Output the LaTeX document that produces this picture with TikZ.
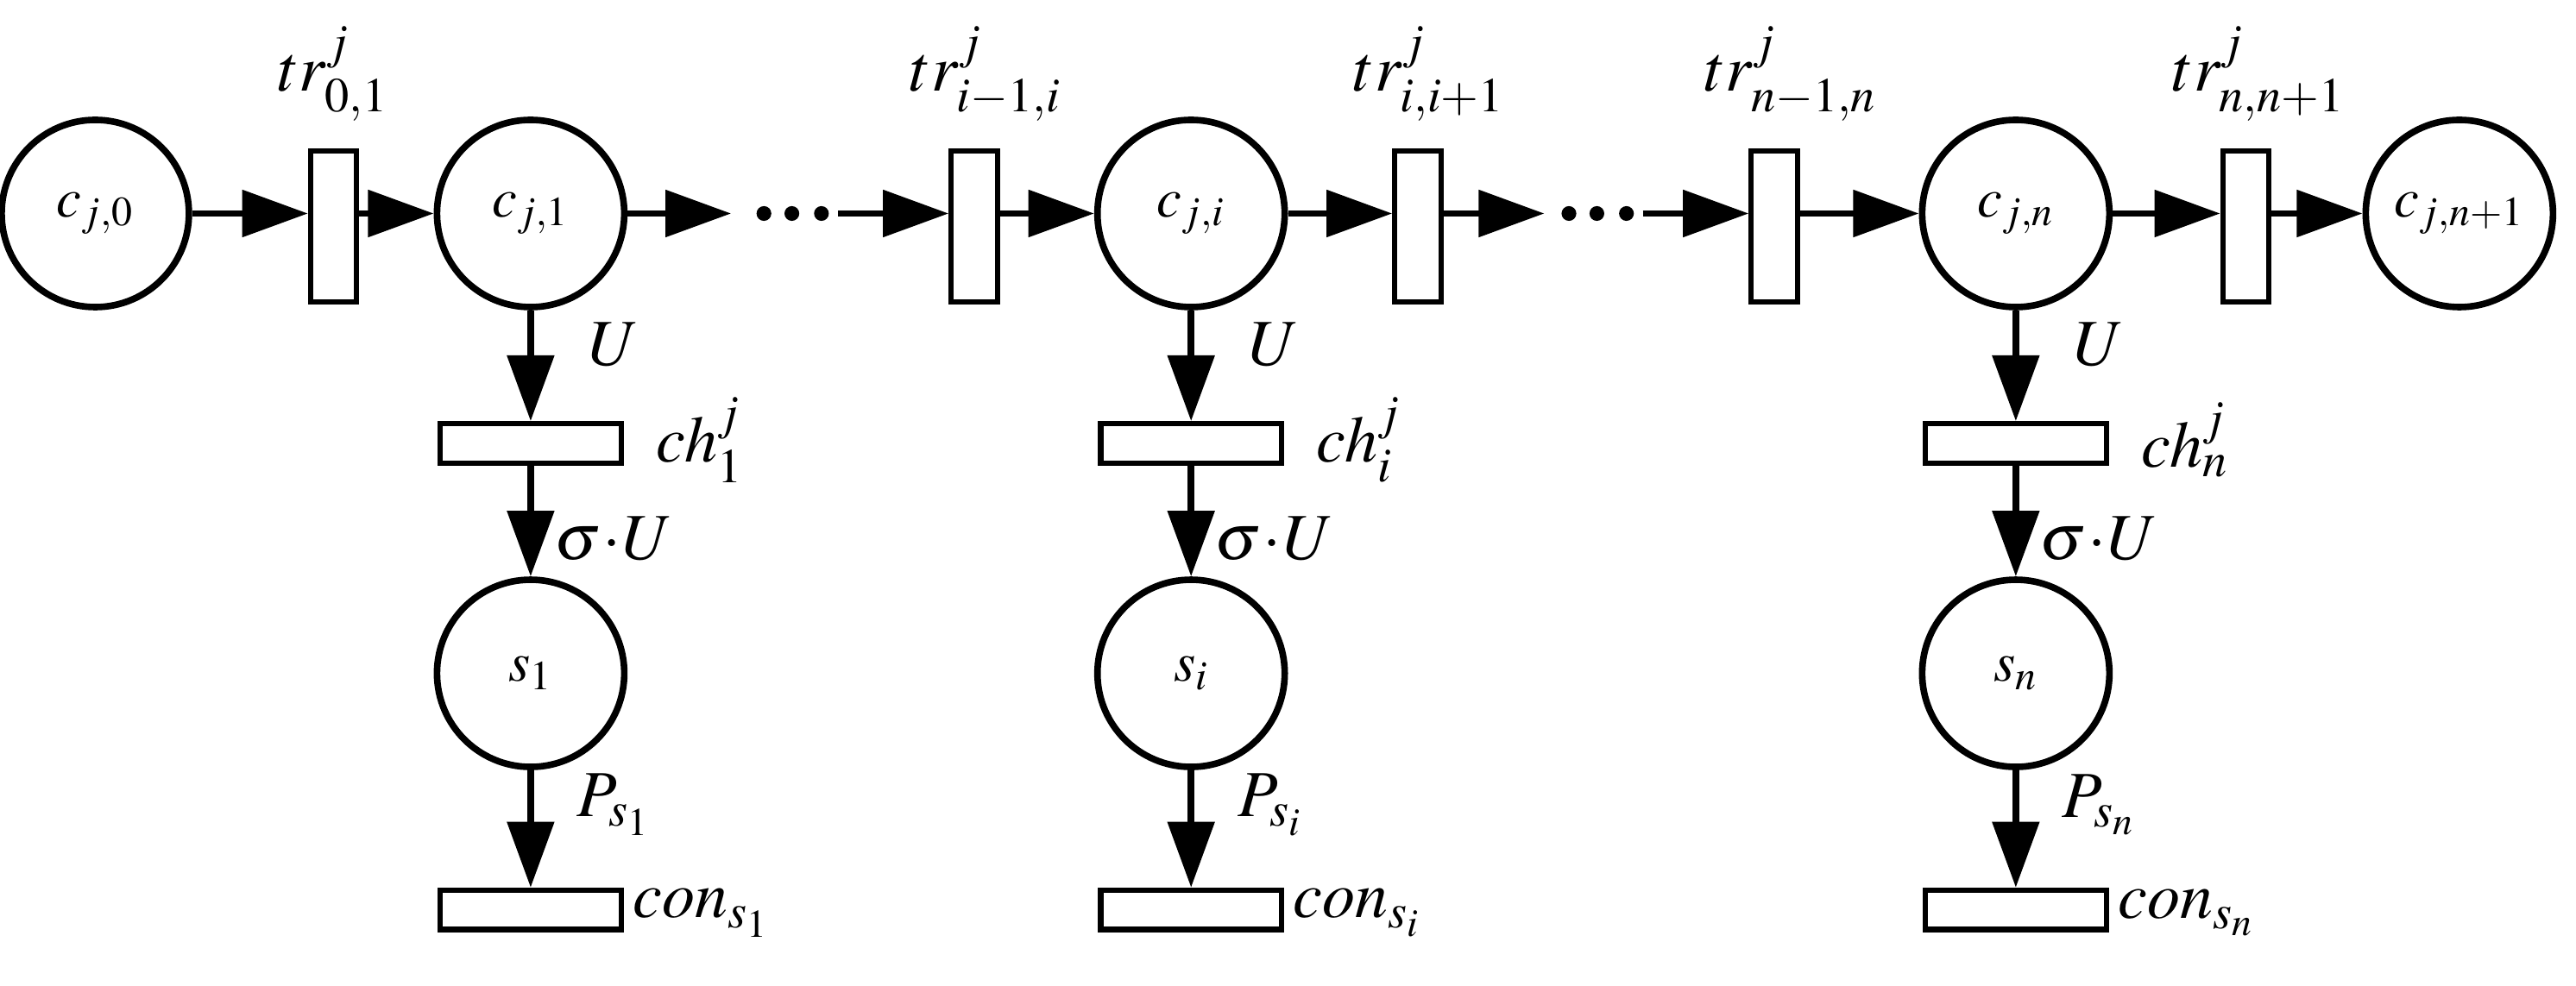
\documentclass[tikz,border=0pt]{standalone}
\usepackage{mathptmx}
\usetikzlibrary{arrows.meta}
\tikzset{
  place/.style={circle,draw,line width=2pt,minimum size=57pt,inner sep=0pt,font=\fontsize{17}{20}\selectfont},
  vtrans/.style={rectangle,draw,line width=1.6pt,minimum width=14pt,minimum height=46pt,inner sep=0pt},
  htrans/.style={rectangle,draw,line width=1.6pt,minimum width=55pt,minimum height=12pt,inner sep=0pt},
  arc/.style={-{Triangle[length=20pt,width=14pt]},line width=2pt},
  lab/.style={font=\fontsize{20}{24}\selectfont,inner sep=0pt},
  dot/.style={circle,fill,minimum size=4.5pt,inner sep=0pt}
}
\begin{document}
\begin{tikzpicture}[x=0.5pt,y=0.5pt]
\useasboundingbox (0,0) rectangle (1568,-600);

%top row
\node [place](c0)  at (58,-130)  {$c_{j,0}$};
\node [vtrans](t01) at (203,-138) {};
\node [place](c1)  at (323,-130) {$c_{j,1}$};
\node [vtrans](tai) at (593,-138) {};
\node [place](ci)  at (725,-130) {$c_{j,i}$};
\node [vtrans](tib) at (863,-138) {};
\node [vtrans](tan) at (1080,-138) {};
\node [place](cn)  at (1227,-130) {$c_{j,n}$};
\node [vtrans](tnb) at (1367,-138) {};
\node [place](cnn) at (1497,-130) {$c_{j,n+1}$};

\node [lab](l01) at (203,-45) {$tr^{j}_{0,1}$};
\node [lab](lai) at (600,-45) {$tr^{j}_{i-1,i}$};
\node [lab](lib) at (870,-45) {$tr^{j}_{i,i+1}$};
\node [lab](lan) at (1090,-45) {$tr^{j}_{n-1,n}$};
\node [lab](lnb) at (1375,-45) {$tr^{j}_{n,n+1}$};

%dots
\foreach \d/\x in {a/465,b/482,c/500} \node [dot](da\d) at (\x,-130) {};
\foreach \d/\x in {a/955,b/972,c/990} \node [dot](db\d) at (\x,-130) {};
\coordinate (ea) at (445,-130);
\coordinate (fa) at (510,-130);
\coordinate (eb) at (940,-130);
\coordinate (fb) at (1000,-130);

\draw [arc] (c0.east)--(t01.west |- c0.east);
\draw [arc] (t01.east |- c1.west)--(c1.west);
\draw [arc] (c1.east)--(ea);
\draw [arc] (fa)--(tai.west |- fa);
\draw [arc] (tai.east |- ci.west)--(ci.west);
\draw [arc] (ci.east)--(tib.west |- ci.east);
\draw [arc] (tib.east |- eb)--(eb);
\draw [arc] (fb)--(tan.west |- fb);
\draw [arc] (tan.east |- cn.west)--(cn.west);
\draw [arc] (cn.east)--(tnb.west |- cn.east);
\draw [arc] (tnb.east |- cnn.west)--(cnn.west);

%columns
\foreach \k/\x in {1/323,i/725,n/1227}{
  \node [htrans](ch\k)  at (\x,-270) {};
  \node [place](s\k)    at (\x,-410) {$s_{\k}$};
  \node [htrans](con\k) at (\x,-554) {};
  \node [lab,anchor=west](lu\k)  at (\x+35,-210) {$U$};
  \node [lab,anchor=west](lch\k) at (\x+76,-268) {$ch^{j}_{\k}$};
  \node [lab,anchor=west](lsu\k) at (\x+14,-328) {$\sigma\!\cdot\! U$};
  \node [lab,anchor=west](lp\k)  at (\x+28,-490) {$P_{s_{\k}}$};
  \node [lab,anchor=west](lc\k)  at (\x+62,-556) {$con_{s_{\k}}$};
  \draw [arc] (c\k)--(ch\k);
  \draw [arc] (ch\k)--(s\k);
  \draw [arc] (s\k)--(con\k);
}
\end{tikzpicture}
\end{document}
